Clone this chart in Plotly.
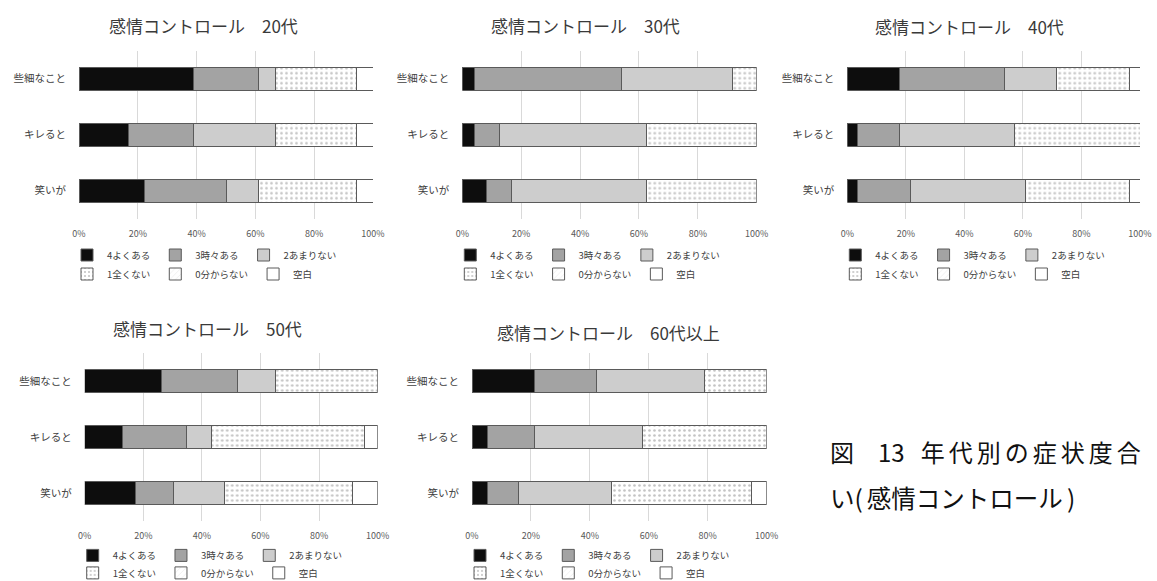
import plotly.graph_objects as go

W, H = 1157, 581
FONT = "Noto Sans CJK JP"

# ---- data -------------------------------------------------------------
categories = ["些細なこと", "キレると", "笑いが"]
responses = ["4よくある", "3時々ある", "2あまりない", "1全くない", "0分からない", "空白"]
age_groups = ["20代", "30代", "40代", "50代", "60代以上"]

# share of respondents (%) for each response, in category order
pct_20s = [
    [38.9, 16.7, 22.2],
    [22.2, 22.2, 27.8],
    [5.6, 27.8, 11.1],
    [27.8, 27.8, 33.3],
    [0, 0, 0],
    [5.6, 5.6, 5.6],
]
pct_30s = [
    [4.2, 4.2, 8.3],
    [50.0, 8.3, 8.3],
    [37.5, 50.0, 45.8],
    [8.3, 37.5, 37.5],
    [0, 0, 0],
    [0, 0, 0],
]
pct_40s = [
    [17.9, 3.6, 3.6],
    [35.7, 14.3, 17.9],
    [17.9, 39.3, 39.3],
    [25.0, 42.9, 35.7],
    [0, 0, 0],
    [3.6, 0, 3.6],
]
pct_50s = [
    [26.1, 13.0, 17.4],
    [26.1, 21.7, 13.0],
    [13.0, 8.7, 17.4],
    [34.8, 52.2, 43.5],
    [0, 0, 0],
    [0, 4.3, 8.7],
]
pct_60s = [
    [21.1, 5.3, 5.3],
    [21.1, 15.8, 10.5],
    [36.8, 36.8, 31.6],
    [21.1, 42.1, 47.4],
    [0, 0, 0],
    [0, 0, 5.3],
]
x_ticks = [0, 20, 40, 60, 80, 100]
x_tick_labels = ["0%", "20%", "40%", "60%", "80%", "100%"]

panel_data = [pct_20s, pct_30s, pct_40s, pct_50s, pct_60s]

# ---- styling ----------------------------------------------------------
fills = [
    dict(color="#0d0d0d"),
    dict(color="#a3a3a3"),
    dict(color="#cdcdcd"),
    dict(color="white", pattern=dict(shape=".", fgcolor="#8a8a8a", bgcolor="white",
                                     size=5, solidity=0.22)),
    dict(color="white", pattern=dict(shape="/", fgcolor="#d0d0d0", bgcolor="white",
                                     size=5, solidity=0.15)),
    dict(color="white"),
]
EDGE = "#5a5a5a"

# panel boxes in pixels: left, right, top, bottom of the plotting area
panels = [
    (79, 373, 50.7, 218.7),
    (462.3, 756.7, 50.7, 218.7),
    (847.3, 1140, 50.7, 218.7),
    (84.7, 377.7, 353, 521.4),
    (472, 766.7, 353, 521.4),
]
title_centres = [(203, 25), (585, 25), (969, 26.7), (207.5, 328), (608, 332)]
legend_offsets = [(36.3, 55.3), (36.3, 55.3), (36.3, 55.3), (34, 51.5), (34, 51.5)]


def px_x(v):
    return v / W


def px_y(v):
    return 1 - v / H


fig = go.Figure()
layout = dict(
    width=W, height=H,
    margin=dict(l=0, r=0, t=0, b=0, autoexpand=False),
    paper_bgcolor="white", plot_bgcolor="white",
    barmode="stack",
    font=dict(family=FONT, color="#404040"),
    annotations=[],
)

for i, (data, (x0, x1, yt, yb)) in enumerate(zip(panel_data, panels)):
    n = "" if i == 0 else str(i + 1)
    xa, ya = "x" + n, "y" + n
    for j, (resp, vals) in enumerate(zip(responses, data)):
        leg_idx = 2 * i + (0 if j < 3 else 1)
        leg_name = "legend" if leg_idx == 0 else f"legend{leg_idx + 1}"
        fig.add_trace(go.Bar(
            x=[v if v else None for v in vals], y=categories, orientation="h",
            name=resp, xaxis=xa, yaxis=ya, legend=leg_name,
            width=0.41,
            marker=dict(**fills[j], line=dict(color=EDGE, width=1)),
            hoverinfo="name+x",
        ))
    layout["xaxis" + n] = dict(
        domain=[px_x(x0), px_x(x1)], anchor=ya,
        range=[0, 100], tickmode="array", tickvals=x_ticks, ticktext=x_tick_labels,
        showgrid=True, gridcolor="#d9d9d9", gridwidth=1,
        zeroline=False, showline=False,
        tickfont=dict(size=9, color="#595959"), ticklabelstandoff=8,
    )
    layout["yaxis" + n] = dict(
        domain=[px_y(yb), px_y(yt)], anchor=xa,
        type="category", autorange="reversed",
        showgrid=False, zeroline=False, showline=False,
        tickfont=dict(size=10.5, color="#404040"), ticklabelstandoff=12,
    )
    for k, dy in enumerate(legend_offsets[i]):
        leg_idx = 2 * i + k
        leg_name = "legend" if leg_idx == 0 else f"legend{leg_idx + 1}"
        layout[leg_name] = dict(
            orientation="h", xanchor="left", yanchor="middle",
            traceorder="normal",
            x=px_x(x0 - 12), y=px_y(yb + dy),
            bgcolor="rgba(0,0,0,0)", font=dict(size=9.5, color="#404040"),
            itemclick=False, itemdoubleclick=False,
        )
    cx, cy = title_centres[i]
    layout["annotations"].append(dict(
        text="感情コントロール\u3000" + age_groups[i],
        x=px_x(cx), y=px_y(cy), xref="paper", yref="paper",
        xanchor="center", yanchor="middle", showarrow=False,
        font=dict(size=17, color="#3a3a3a", family=FONT),
    ))

# figure caption (first line is spread out with narrow spaces)
NB, SP = "\u00a0", "\u2006"
caption_1 = "図\u3000" + "13" + NB * 3 + SP.join("年代別の症状度合")
caption_2 = "い(" + SP + "感情コントロール" + SP + ")"
for txt, ypx, size in ((caption_1, 451, 24), (caption_2, 497, 24.5)):
    layout["annotations"].append(dict(
        text=txt, x=px_x(828), y=px_y(ypx), xref="paper", yref="paper",
        xanchor="left", yanchor="middle", showarrow=False,
        font=dict(size=size, color="#111111", family=FONT),
    ))

fig.update_layout(**layout)
fig.write_html("out.html")
